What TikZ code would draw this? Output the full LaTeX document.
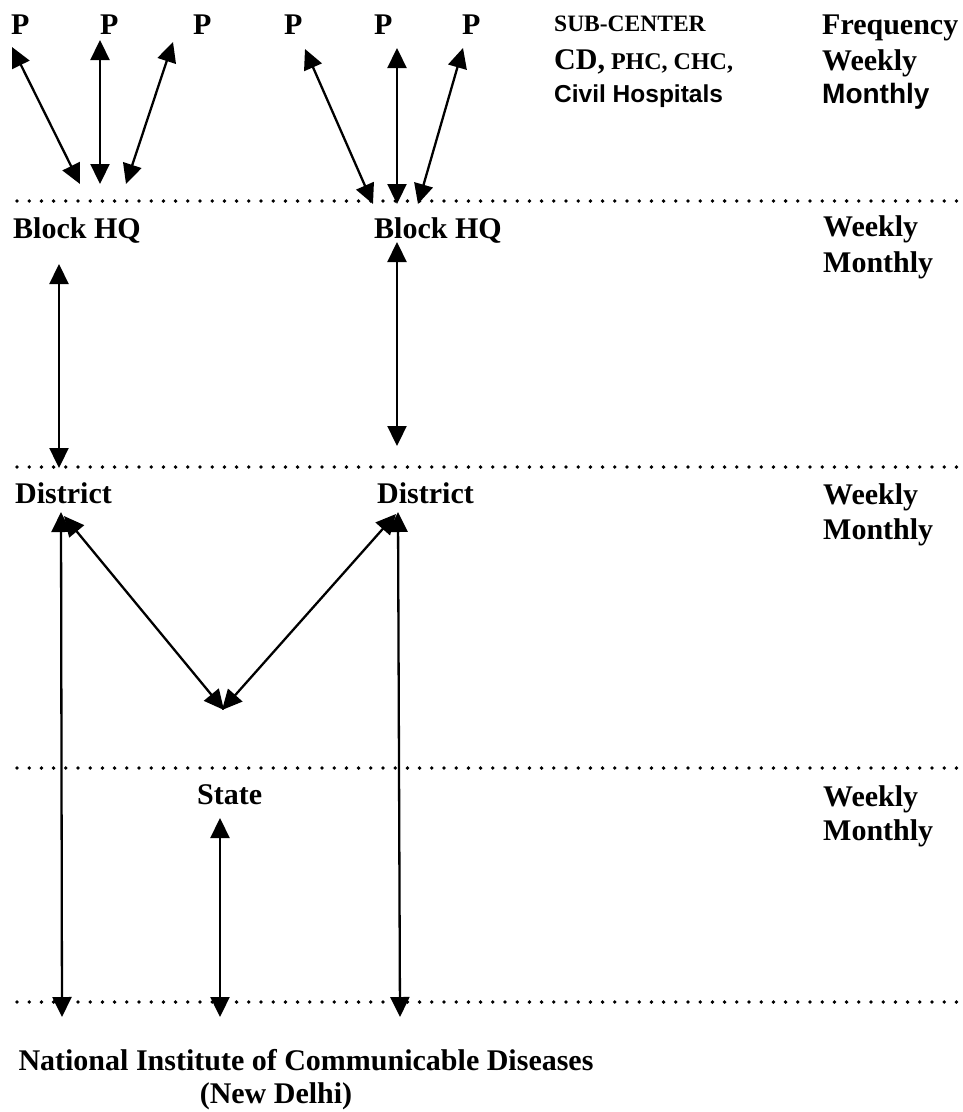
\documentclass[tikz,border=0pt]{standalone}
\usepackage{fontspec}
\setmainfont{Liberation Serif}
\newfontfamily\arialf{Liberation Sans}
\usetikzlibrary{arrows.meta}
\tikzset{
  lbl/.style={anchor=base west, inner sep=0pt, font=\fontsize{30}{34}\selectfont\bfseries},
  lblsmall/.style={anchor=base west, inner sep=0pt, font=\fontsize{23.5}{27}\selectfont\bfseries},
  lblsans/.style={anchor=base west, inner sep=0pt, font=\arialf\fontsize{24.5}{29}\selectfont\bfseries},
  dotline/.style={line width=3.8pt, line cap=round, dash pattern=on 0pt off 12.2pt},
  biarrow/.style={line width=2.3pt, {Triangle[length=20pt,width=19pt]}-{Triangle[length=20pt,width=19pt]}},
}
\begin{document}
\begin{tikzpicture}[x=1pt,y=-1pt]
\useasboundingbox (0,0) rectangle (962,1112);
% top row P
\node[lbl] (p1) at (11,34) {P};
\node[lbl] (p2) at (100,34) {P};
\node[lbl] (p3) at (193,34) {P};
\node[lbl] (p4) at (284,34) {P};
\node[lbl] (p5) at (374,34) {P};
\node[lbl] (p6) at (462,34) {P};
% sub-center labels
\node[lblsmall] (sub) at (554,31) {SUB-CENTER};
\node[lbl, anchor=base west] (cd) at (554,69) {CD,\fontsize{24}{27}\selectfont{} PHC, CHC,};
\node[lblsans] (civ) at (554,102) {Civil Hospitals};
\node[lbl] (freq) at (822,34) {Frequency};
\node[lbl] (w0) at (822,70) {Weekly};
\node[lblsans, font=\arialf\fontsize{28}{32}\selectfont\bfseries] (m0) at (822,103) {Monthly};
% level labels
\node[lbl] (bhq1) at (13,238) {Block HQ};
\node[lbl] (bhq2) at (374,238) {Block HQ};
\node[lbl] (w1) at (823,236) {Weekly};
\node[lbl] (m1) at (823,272) {Monthly};
\node[lbl] (d1) at (15,503) {District};
\node[lbl] (d2) at (377,503) {District};
\node[lbl] (w2) at (823,504) {Weekly};
\node[lbl] (m2) at (823,539) {Monthly};
\node[lbl] (st) at (197,804) {State};
\node[lbl] (w3) at (823,806) {Weekly};
\node[lbl] (m3) at (823,840) {Monthly};
\node[lbl, anchor=base] (nicd) at (306,1070) {National Institute of Communicable Diseases};
\node[lbl, anchor=base] (nd) at (276,1103) {(New Delhi)};
% dotted separators
\coordinate (l1a) at (17,201); \coordinate (l1b) at (962,201);
\coordinate (l2a) at (17,467); \coordinate (l2b) at (962,467);
\coordinate (l3a) at (17,768); \coordinate (l3b) at (962,768);
\coordinate (l4a) at (17,1002); \coordinate (l4b) at (962,1002);
\draw[dotline] (l1a) -- (l1b);
\draw[dotline] (l2a) -- (l2b);
\draw[dotline] (l3a) -- (l3b);
\draw[dotline] (l4a) -- (l4b);
% arrow end points
\coordinate (t1) at (12,47); \coordinate (b1) at (80,184);
\coordinate (t2) at (100,40); \coordinate (b2) at (100,184);
\coordinate (t3) at (173,42); \coordinate (b3) at (126,184);
\coordinate (t4) at (305,49); \coordinate (b4) at (373,204);
\coordinate (t5) at (397,48); \coordinate (b5) at (397,204);
\coordinate (t6) at (463,48); \coordinate (b6) at (418,204);
\draw[biarrow] (t1) -- (b1);
\draw[biarrow] (t2) -- (b2);
\draw[biarrow] (t3) -- (b3);
\draw[biarrow] (t4) -- (b4);
\draw[biarrow] (t5) -- (b5);
\draw[biarrow] (t6) -- (b6);
% block HQ to district
\coordinate (bh1t) at (59,264); \coordinate (bh1b) at (59,468);
\coordinate (bh2t) at (397,242); \coordinate (bh2b) at (397,446);
\draw[biarrow] (bh1t) -- (bh1b);
\draw[biarrow] (bh2t) -- (bh2b);
% district to national
\coordinate (dv1t) at (61,512); \coordinate (dv1b) at (62,1017);
\coordinate (dv2t) at (398,512); \coordinate (dv2b) at (400,1017);
\draw[biarrow] (dv1t) -- (dv1b);
\draw[biarrow] (dv2t) -- (dv2b);
% V between districts
\coordinate (vl) at (64,516); \coordinate (vr) at (396,514);
\coordinate (vbl) at (224,710); \coordinate (vbr) at (222,710);
\draw[biarrow] (vl) -- (vbl);
\draw[biarrow] (vr) -- (vbr);
% state to national
\coordinate (sat) at (220,818); \coordinate (sab) at (220,1017);
\draw[biarrow] (sat) -- (sab);
\end{tikzpicture}
\end{document}
